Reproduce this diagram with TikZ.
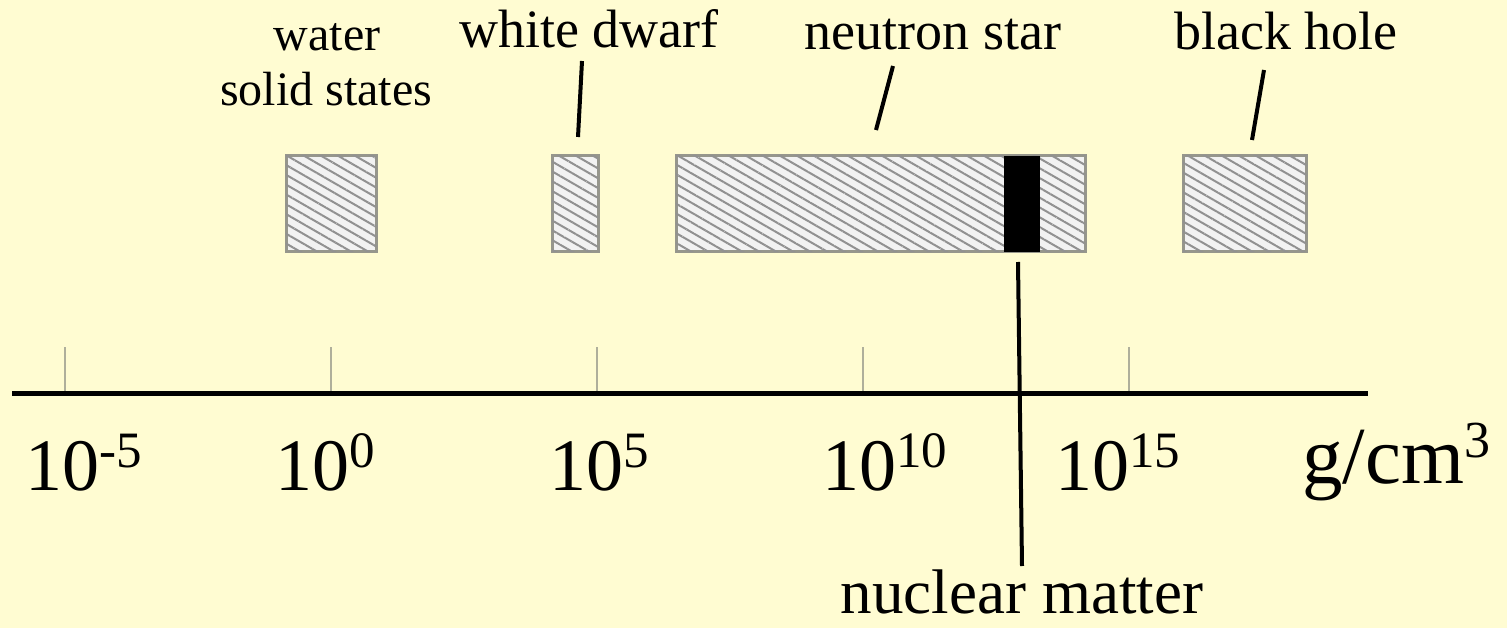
\documentclass[tikz,border=0pt]{standalone}
\usepackage{fontspec}
\usepackage{graphicx}
\setmainfont{Liberation Serif}
\newfontfamily\tnr{Liberation Serif}
\usetikzlibrary{patterns.meta}
\definecolor{bgcream}{RGB}{255,252,210}
\definecolor{boxgray}{RGB}{150,150,140}
\definecolor{hatchgray}{RGB}{145,145,145}
\definecolor{tickgray}{RGB}{175,175,155}
\newcommand{\tenpow}[1]{\fontsize{74}{74}\selectfont 10\raisebox{23pt}{\fontsize{51}{51}\selectfont #1}}
\begin{document}
\begin{tikzpicture}[x=1pt,y=-1pt,
  hatchbox/.style={draw=boxgray, line width=3pt, fill=white!95!black, inner sep=0pt, outer sep=0pt,
     anchor=north west, minimum height=96pt,
     postaction={pattern={Lines[angle=-30,distance=8.5pt,line width=2pt]}, pattern color=hatchgray}},
  solidband/.style={fill=black, draw=none, inner sep=0pt, outer sep=0pt, anchor=north west, minimum height=96pt},
  lbl/.style={font=\tnr\fontsize{54}{56}\selectfont, inner sep=0pt, anchor=base, align=center},
  smalllbl/.style={font=\tnr\fontsize{48}{50}\selectfont, inner sep=0pt, anchor=base},
  ticklbl/.style={font=\tnr, inner sep=0pt, anchor=base west},
  tickline/.style={draw=tickgray, line width=2pt},
  pointer/.style={draw=black, line width=4pt}
]
\fill[bgcream] (0,0) rectangle (1507,628);
\useasboundingbox (0,0) rectangle (1507,628);

% boxes
\node[hatchbox, minimum width=90pt] (water) at (286,156) {};
\node[hatchbox, minimum width=46pt] (wd) at (552,156) {};
\node[hatchbox, minimum width=409pt] (ns) at (676,156) {};
\node[solidband, minimum width=36pt] (nm) at (1004,156) {};
\node[hatchbox, minimum width=123pt] (bh) at (1183,156) {};

% labels
\node[smalllbl] (lwater) at (327,51) {water};
\node[smalllbl] (lsolid) at (326,106) {solid states};
\node[lbl] (lwd) at (589,48) {white dwarf};
\node[lbl] (lns) at (933,50) {neutron star};
\node[lbl] (lbh) at (1286,50) {black hole};
\node[font=\tnr\fontsize{63}{66}\selectfont, inner sep=0pt, text depth=0pt, anchor=base] (lnm) at (1022,613) {nuclear matter};

% pointer lines
\coordinate (wdA) at (582,61); \coordinate (wdB) at (578,137);
\coordinate (nsA) at (893,66); \coordinate (nsB) at (876,130);
\coordinate (bhA) at (1264,70); \coordinate (bhB) at (1252,140);
\coordinate (nmA) at (1018,262); \coordinate (nmB) at (1022,566);
\draw[pointer] (wdA) -- (wdB);
\draw[pointer] (nsA) -- (nsB);
\draw[pointer] (bhA) -- (bhB);

% axis
\coordinate (axL) at (12,393); \coordinate (axR) at (1368,393);
\foreach \x/\n in {65/a,331/b,597/c,863/d,1129/e}{
  \coordinate (t\n top) at (\x,347);
  \coordinate (t\n bot) at (\x,393);
  \draw[tickline] (t\n top) -- (t\n bot);
}
\draw[line width=5pt, draw=black] (axL) -- (axR);
\draw[pointer] (nmA) -- (nmB);

% tick labels
\node[ticklbl] (ta) at (25,490) {\tenpow{-5}};
\node[ticklbl] (tb) at (275,490) {\tenpow{0}};
\node[ticklbl] (tc) at (549,490) {\tenpow{5}};
\node[ticklbl] (td) at (822,490) {\tenpow{10}};
\node[ticklbl] (te) at (1055,490) {\tenpow{15}};
\node[font=\tnr\fontsize{81}{84}\selectfont, inner sep=0pt, anchor=base west] (unit) at (1302,483) {g/cm\raisebox{26pt}{\fontsize{52}{52}\selectfont 3}};
\end{tikzpicture}
\end{document}
